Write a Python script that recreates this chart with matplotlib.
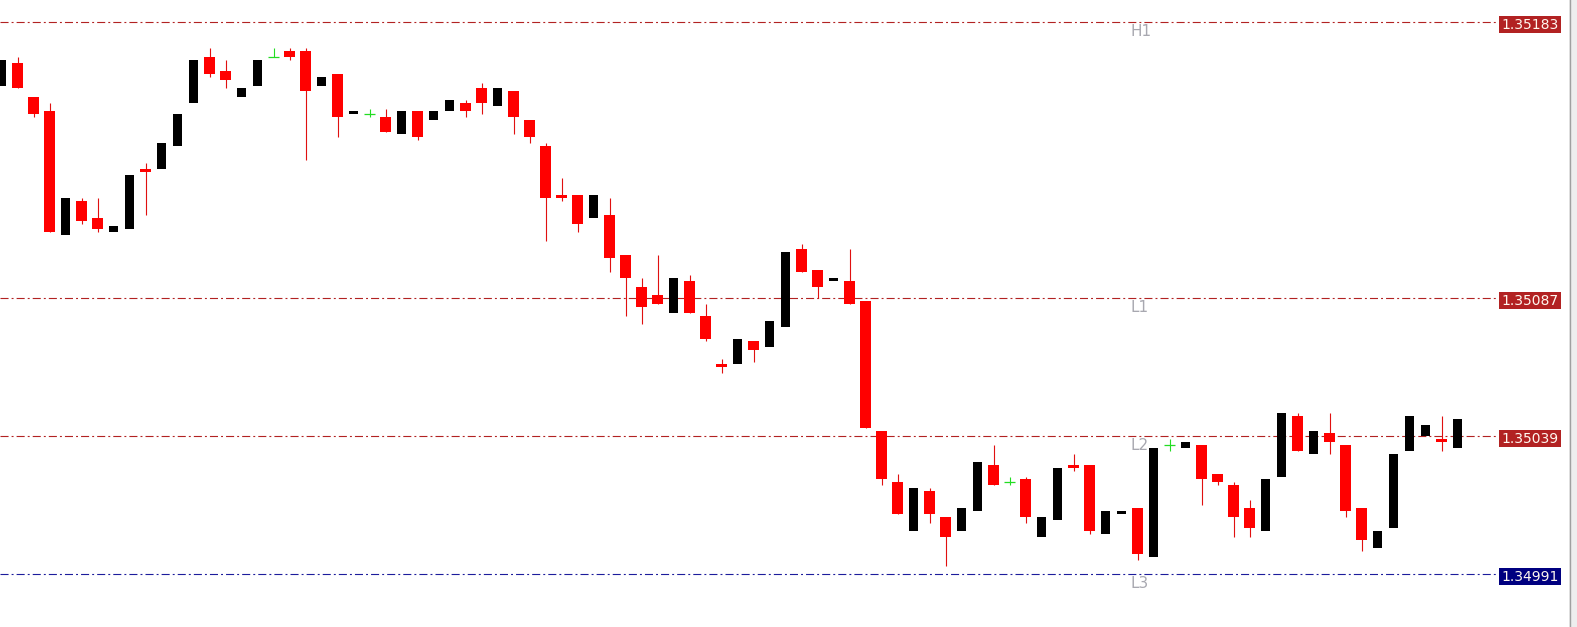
import numpy as np
import matplotlib.pyplot as plt
from matplotlib.patches import Rectangle

plt.rcParams['lines.scale_dashes'] = False

# OHLC values (one bar every 16 px)
opens = [1.35161, 1.35169, 1.35157, 1.35152, 1.35109, 1.35121, 1.35115, 1.35110, 1.35111, 1.35132,
         1.35132, 1.35140, 1.35155, 1.35171, 1.35166, 1.35157, 1.35161, 1.35171, 1.35173, 1.35173,
         1.35161, 1.35165, 1.35151, 1.35151, 1.35150, 1.35144, 1.35152, 1.35149, 1.35152, 1.35155,
         1.35160, 1.35154, 1.35159, 1.35149, 1.35140, 1.35123, 1.35123, 1.35115, 1.35116, 1.35102,
         1.35091, 1.35088, 1.35082, 1.35093, 1.35081, 1.35064, 1.35064, 1.35072, 1.35070, 1.35077,
         1.35104, 1.35097, 1.35093, 1.35093, 1.35086, 1.35041, 1.35023, 1.35006, 1.35020, 1.35011,
         1.35006, 1.35013, 1.35029, 1.35023, 1.35024, 1.35004, 1.35010, 1.35029, 1.35029, 1.35005,
         1.35012, 1.35014, 1.34997, 1.35036, 1.35035, 1.35036, 1.35026, 1.35022, 1.35014, 1.35006,
         1.35025, 1.35046, 1.35033, 1.35040, 1.35036, 1.35014, 1.35000, 1.35007, 1.35034, 1.35039,
         1.35038, 1.35035]
highs = [1.35170, 1.35171, 1.35157, 1.35155, 1.35122, 1.35122, 1.35122, 1.35112, 1.35130, 1.35134,
         1.35141, 1.35151, 1.35170, 1.35174, 1.35170, 1.35160, 1.35170, 1.35174, 1.35174, 1.35174,
         1.35164, 1.35165, 1.35152, 1.35153, 1.35153, 1.35152, 1.35152, 1.35152, 1.35156, 1.35156,
         1.35162, 1.35160, 1.35159, 1.35149, 1.35141, 1.35129, 1.35123, 1.35123, 1.35122, 1.35102,
         1.35094, 1.35102, 1.35094, 1.35095, 1.35085, 1.35066, 1.35073, 1.35072, 1.35079, 1.35103,
         1.35106, 1.35097, 1.35094, 1.35104, 1.35086, 1.35041, 1.35026, 1.35021, 1.35021, 1.35011,
         1.35014, 1.35030, 1.35036, 1.35025, 1.35025, 1.35011, 1.35028, 1.35033, 1.35029, 1.35013,
         1.35013, 1.35014, 1.35035, 1.35038, 1.35037, 1.35036, 1.35026, 1.35023, 1.35017, 1.35024,
         1.35047, 1.35047, 1.35041, 1.35047, 1.35036, 1.35014, 1.35006, 1.35033, 1.35046, 1.35043,
         1.35046, 1.35045]
lows = [1.35161, 1.35160, 1.35150, 1.35110, 1.35109, 1.35113, 1.35110, 1.35110, 1.35111, 1.35116,
        1.35132, 1.35140, 1.35155, 1.35164, 1.35160, 1.35157, 1.35161, 1.35171, 1.35170, 1.35135,
        1.35161, 1.35143, 1.35151, 1.35150, 1.35145, 1.35144, 1.35142, 1.35149, 1.35152, 1.35150,
        1.35151, 1.35154, 1.35144, 1.35141, 1.35107, 1.35121, 1.35110, 1.35115, 1.35096, 1.35081,
        1.35078, 1.35085, 1.35082, 1.35082, 1.35072, 1.35061, 1.35064, 1.35065, 1.35070, 1.35077,
        1.35096, 1.35087, 1.35093, 1.35085, 1.35042, 1.35022, 1.35012, 1.35006, 1.35009, 1.34994,
        1.35006, 1.35013, 1.35022, 1.35022, 1.35009, 1.35004, 1.35010, 1.35027, 1.35005, 1.35005,
        1.35012, 1.34996, 1.34997, 1.35034, 1.35035, 1.35015, 1.35022, 1.35004, 1.35004, 1.35006,
        1.35025, 1.35034, 1.35033, 1.35033, 1.35011, 1.34999, 1.35000, 1.35007, 1.35034, 1.35039,
        1.35034, 1.35035]
closes = [1.35170, 1.35160, 1.35151, 1.35110, 1.35122, 1.35114, 1.35111, 1.35112, 1.35130, 1.35131,
          1.35141, 1.35151, 1.35170, 1.35165, 1.35163, 1.35160, 1.35170, 1.35171, 1.35171, 1.35159,
          1.35164, 1.35150, 1.35152, 1.35151, 1.35145, 1.35152, 1.35143, 1.35152, 1.35156, 1.35152,
          1.35155, 1.35160, 1.35150, 1.35143, 1.35122, 1.35122, 1.35113, 1.35123, 1.35101, 1.35094,
          1.35084, 1.35085, 1.35094, 1.35082, 1.35073, 1.35063, 1.35073, 1.35069, 1.35079, 1.35103,
          1.35096, 1.35091, 1.35094, 1.35085, 1.35042, 1.35024, 1.35012, 1.35021, 1.35012, 1.35004,
          1.35014, 1.35030, 1.35022, 1.35023, 1.35011, 1.35011, 1.35028, 1.35028, 1.35006, 1.35013,
          1.35013, 1.34998, 1.35035, 1.35036, 1.35037, 1.35024, 1.35023, 1.35011, 1.35007, 1.35024,
          1.35047, 1.35034, 1.35041, 1.35037, 1.35013, 1.35003, 1.35006, 1.35033, 1.35046, 1.35043,
          1.35037, 1.35045]

level_names = ['H1', 'L1', 'L2', 'L3']
level_prices = [1.35183, 1.35087, 1.35039, 1.34991]
level_colors = ['#b22222', '#b22222', '#b22222', '#1c1c9c']
label_colors = ['#b22222', '#b22222', '#b22222', '#000080']

W, H = 1577, 627
px_per_pip = 2.875
y_top = 1.35183 + 22.3 / px_per_pip * 1e-5
y_bot = y_top - H / px_per_pip * 1e-5

fig = plt.figure(figsize=(W / 100, H / 100), dpi=100)
ax = fig.add_axes([0, 0, 1, 1])
ax.axis('off')
ax.set_xlim(-1.5 / 16, (W - 1.5) / 16)
ax.set_ylim(y_bot, y_top)

o = np.array(opens)
h = np.array(highs)
l = np.array(lows)
c = np.array(closes)
x = np.arange(len(o))

up = c > o
down = c < o
doji = c == o

# wicks
ax.vlines(x[down], l[down], h[down], color='#e01010', lw=0.8, zorder=2)
ax.vlines(x[doji], l[doji], h[doji], color='#22dd22', lw=0.8, zorder=2)
# bodies
ax.bar(x[up], (c - o)[up], bottom=o[up], width=9 / 16, color='black', lw=0, zorder=3)
ax.bar(x[down], (o - c)[down], bottom=c[down], width=11 / 16, color='#ff0000', lw=0, zorder=3)
ax.hlines(o[doji], x[doji] - 5.5 / 16, x[doji] + 5.5 / 16, color='#22dd22', lw=0.9, zorder=3)

def py(price):
    return (y_top - price) / 1e-5 * px_per_pip

for name, p, lc, bc in zip(level_names, level_prices, level_colors, label_colors):
    ax.axhline(p, xmin=0, xmax=1497 / W, color=lc, lw=0.8,
               linestyle=(0, (5.8, 2.2, 1.4, 2.2)), zorder=1)
    yp = py(p)
    fig.text(1130 / W, 1 - (yp + 1.5) / H, name, ha='left', va='top',
             fontsize=11, color='#a8a8b0')
    fig.add_artist(Rectangle((1499 / W, 1 - (yp + 2.3 + 8.5) / H), 62 / W, 17 / H,
                             transform=fig.transFigure, facecolor=bc, edgecolor='none'))
    fig.text(1530 / W, 1 - (yp + 2.6) / H, f'{p:.5f}', ha='center', va='center',
             fontsize=10, color='#fff8f0')

# right border of the chart window
fig.add_artist(Rectangle((1569 / W, 0), 8 / W, 1, transform=fig.transFigure,
                         facecolor='#eeeeee', edgecolor='none'))
fig.add_artist(plt.Line2D([1570 / W, 1570 / W], [0, 1], transform=fig.transFigure,
                          color='#a0a0a0', lw=1))

fig.savefig('out.png', dpi=100)
